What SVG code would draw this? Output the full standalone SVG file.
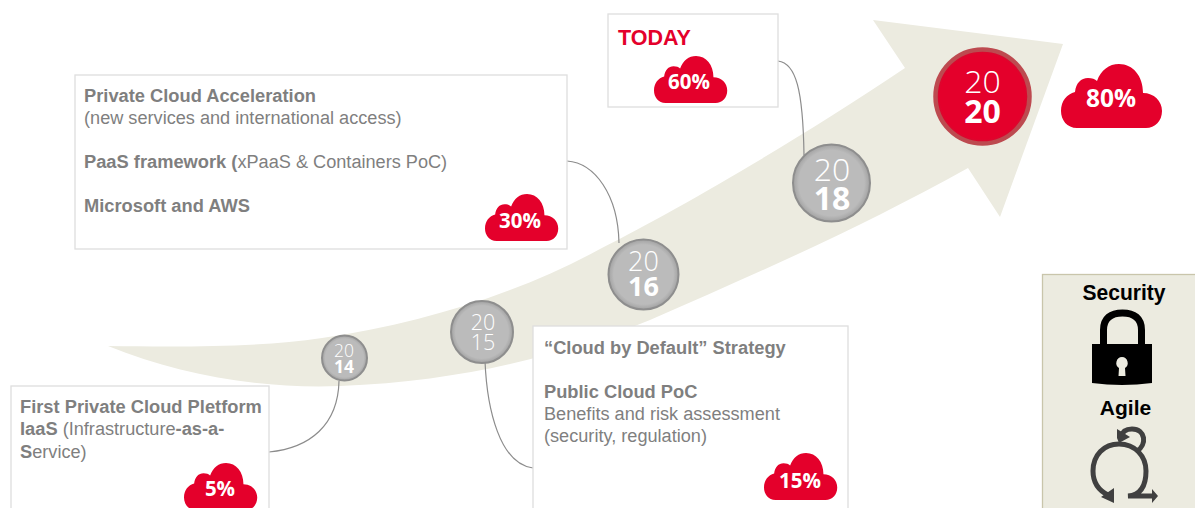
<svg xmlns="http://www.w3.org/2000/svg" width="1195" height="508" viewBox="0 0 1195 508">
<style>
text{font-family:"Liberation Sans",Arial,sans-serif}
.box{fill:#fff;stroke:#dedede;stroke-width:1.300}
.t{font-size:18.150px;fill:#7f7f7f}
.b{font-weight:700;font-size:18.300px}
.conn{fill:none;stroke:#8c8c8c;stroke-width:1.200}
.cloud{fill:#e4002b}
.pct{font-family:"Open Sans",sans-serif;font-weight:700;fill:#fff;text-anchor:middle}
.yr{font-family:"Open Sans",sans-serif;fill:#fff;text-anchor:middle;font-weight:300}
.yb{font-weight:700}
.ball{fill:url(#g);stroke:#8e8e8e;stroke-width:2}
.ic{fill:none;stroke:#404040;stroke-width:5}
</style>
<defs>
<radialGradient id="g" cx="50%" cy="50%" r="50%"><stop offset="85%" stop-color="#bbbbbb"/><stop offset="100%" stop-color="#a2a2a2"/></radialGradient>
<radialGradient id="gr" cx="50%" cy="50%" r="50%"><stop offset="90%" stop-color="#e4002b"/><stop offset="100%" stop-color="#cf1030"/></radialGradient>
<path id="cl" d="M16 64C6 64 0 56 0 47C0 37 6 30 14 28C15 19 20 14 27 14C31 14 34 15 36 17C40 6 48 0 58 0C72 0 82 12 82 29C93 29 101 37 101 47C101 57 94 64 85 64Z"/>
</defs>
<path id="arrow" fill="#ecebe0" d="M108 346C190 347 262 347 322 338C420 324 520 293 600 249C680 208 790 145 905 68L873 20L1063 44L1000 217L968 168C860 228 760 272 650 320C570 352 470 381 340 386C260 389 180 375 108 346Z"/>
<g id="connectors">
<path class="conn" d="M778 61C796 63 803 90 804 155"/>
<path class="conn" d="M567 161C595 163 618 195 619 243"/>
<path class="conn" d="M269 452C310 448 338 425 339 381"/>
<path class="conn" d="M485 361C487 410 500 464 533 468"/>
</g>
<g id="box-2016">
<rect class="box" x="75" y="75" width="492" height="174"/>
<text class="t b" x="84" y="102">Private Cloud Acceleration</text>
<text class="t" x="84" y="124">(new services and international access)</text>
<text class="t" x="84" y="168"><tspan class="b">PaaS framework (</tspan>xPaaS &amp; Containers PoC)</text>
<text class="t b" x="84" y="212">Microsoft and AWS</text>
<use href="#cl" class="cloud" transform="translate(485 194) scale(.725 .735)"/>
<text class="pct" x="520" y="228" font-size="20.500">30%</text>
</g>
<g id="box-today">
<rect class="box" x="608" y="14" width="170" height="93"/>
<text x="618" y="45" font-size="21.500" font-weight="700" fill="#e4002b">TODAY</text>
<use href="#cl" class="cloud" transform="translate(654 56) scale(.725 .735)"/>
<text class="pct" x="689" y="89" font-size="20.500">60%</text>
</g>
<g id="box-2014">
<rect class="box" x="11" y="386" width="258" height="130"/>
<text class="t b" x="20" y="413">First Private Cloud Pletform</text>
<text class="t" x="20" y="435"><tspan class="b">IaaS</tspan> (Infrastructure<tspan class="b">-as-a-</tspan></text>
<text class="t" x="20" y="458"><tspan class="b">S</tspan>ervice)</text>
<use href="#cl" class="cloud" transform="translate(184 463) scale(.725 .735)"/>
<text class="pct" x="220" y="496" font-size="20.500">5%</text>
</g>
<g id="box-2015">
<rect class="box" x="533" y="326" width="315" height="190"/>
<text class="t b" x="544" y="354">“Cloud by Default” Strategy</text>
<text class="t b" x="544" y="398">Public Cloud PoC</text>
<text class="t" x="544" y="420">Benefits and risk assessment</text>
<text class="t" x="544" y="442">(security, regulation)</text>
<use href="#cl" class="cloud" transform="translate(764 453) scale(.725 .735)"/>
<text class="pct" x="800" y="488" font-size="20.500">15%</text>
</g>
<g id="y2014"><circle class="ball" cx="344.500" cy="358" r="22.500"/>
<text class="yr" font-size="17.500"><tspan x="344" y="357">20</tspan><tspan class="yb" x="344" y="373">14</tspan></text></g>
<g id="y2015"><circle class="ball" cx="482" cy="332" r="31"/>
<text class="yr" font-size="21.500"><tspan x="483" y="330">20</tspan><tspan x="483" y="350">15</tspan></text></g>
<g id="y2016"><circle class="ball" cx="643.500" cy="274.500" r="35"/>
<text class="yr" font-size="27"><tspan x="643.500" y="271">20</tspan><tspan class="yb" x="643.500" y="296">16</tspan></text></g>
<g id="y2018"><circle class="ball" cx="831.500" cy="183" r="38.500"/>
<text class="yr" font-size="32"><tspan x="832" y="181">20</tspan><tspan class="yb" x="832" y="210">18</tspan></text></g>
<g id="y2020"><circle cx="982.500" cy="96.500" r="47" fill="url(#gr)" stroke="#bd4a50" stroke-width="4.500"/>
<text class="yr" font-size="32"><tspan x="982.500" y="93">20</tspan><tspan class="yb" x="982.500" y="123">20</tspan></text></g>
<g id="cloud-80">
<use href="#cl" class="cloud" transform="translate(1061 64)"/>
<text class="pct" x="1111" y="107" font-size="24.500">80%</text>
</g>
<g id="legend">
<rect x="1042.500" y="274.500" width="160" height="240" fill="#ecebe0" stroke="#c9c5ab" stroke-width="1.300"/>
<text x="1124" y="300" font-size="22" font-weight="700" fill="#000" text-anchor="middle" textLength="83" lengthAdjust="spacingAndGlyphs">Security</text>
<path d="M1103.500 346V330C1103.500 318 1111 313 1122.500 313C1134 313 1141.500 318 1141.500 330V346" fill="none" stroke="#000" stroke-width="7"/>
<path fill-rule="evenodd" d="M1092 344H1152V383Q1122 387 1092 383ZM1122 357A6 6 0 0 0 1119 368L1118.500 376H1125.500L1125 368A6 6 0 0 0 1122 357Z" fill="#000"/>
<text x="1125.500" y="415" font-size="21" font-weight="700" fill="#000" text-anchor="middle">Agile</text>
<path class="ic" d="M1108 495C1098 490 1093 481 1093 471C1093 455 1104 444 1119 444C1135 444 1146 456 1146 471C1146 484 1142 495 1128 496H1153"/>
<path class="ic" d="M1137 451C1147 445 1146 429 1132 429C1126 429 1122 432 1121 437"/>
<path fill="#404040" d="M1114 488L1114 503L1101 497ZM1152 489L1158 496L1152 503ZM1117 429L1130 437L1119 443L1117 438Z"/>
</g>
</svg>
